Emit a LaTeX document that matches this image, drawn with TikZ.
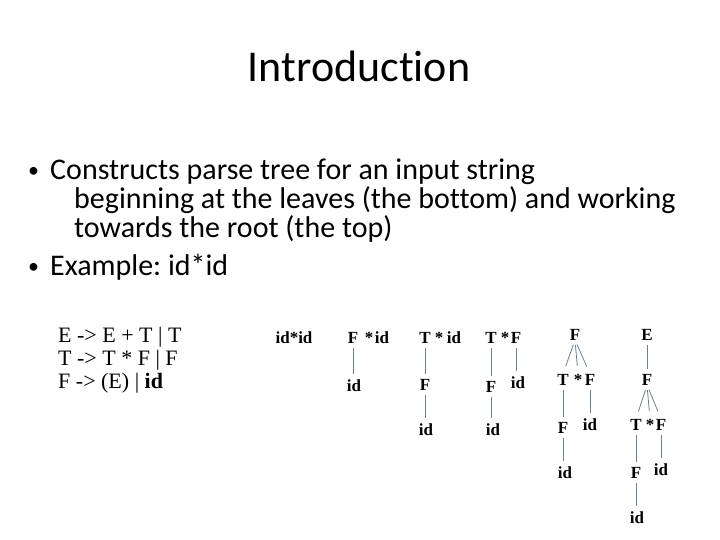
\documentclass[tikz,border=0pt]{standalone}
\usepackage{fontspec}
\setmainfont{Liberation Serif}
\newfontfamily\slidefont[Ligatures=NoCommon]{Carlito}
\usetikzlibrary{positioning}
\definecolor{treeline}{RGB}{110,128,142}
\frenchspacing

\begin{document}
\begin{tikzpicture}[
  x=1pt,y=-1pt,
  sym/.style={anchor=base,inner sep=0pt,outer sep=0pt,font=\bfseries\fontsize{17}{19}\selectfont},
  edge/.style={draw=treeline,line width=0.8pt,shorten <=5pt,shorten >=5pt},
  branch/.style={edge,shorten >=8pt},
  bullet/.style={anchor=base west,inner sep=0pt,font=\slidefont\fontsize{30}{33}\selectfont},
  rule/.style={anchor=base west,inner sep=0pt,font=\fontsize{22}{23}\selectfont}
]
\useasboundingbox (0,0) rectangle (720,540);
% title and bullets
\node[anchor=base,inner sep=0pt,font=\slidefont\fontsize{44}{48}\selectfont] (title) at (359,82) {Introduction};
\node[bullet,font=\slidefont\fontsize{22}{24}\selectfont] (b1) at (28,178) {\textbullet};
\node[bullet] (t1) at (50,180) {Constructs parse tree for an input string};
\node[bullet] (t2) at (74,208) {beginning at the leaves (the bottom) and working};
\node[bullet] (t3) at (74,237) {towards the root (the top)};
\node[bullet,font=\slidefont\fontsize{22}{24}\selectfont] (b2) at (28,273) {\textbullet};
\node[bullet] (t4) at (50,275) {Example: id*id};
% grammar
\node[rule] (g1) at (58,342) {E -\textgreater{} E + T | T};
\node[rule] (g2) at (58,365) {T -\textgreater{} T * F | F};
\node[rule] (g3) at (58,388) {F -\textgreater{} (E) | \textbf{id}};
% step 1
\node[sym] (s1) at (294,343) {id*id};
% step 2
\node[sym] (f2) at (353,343) {F};
\node[sym] (m2) at (369,343) {*};
\node[sym] (i2) at (382,343) {id};
\node[sym] (l2) at (354,391) {id};
\draw[edge] (f2.south) -- (f2.south |- l2.north);
% step 3
\node[sym] (t3a) at (425,343) {T};
\node[sym] (m3) at (439,343) {*};
\node[sym] (i3) at (454,343) {id};
\node[sym] (f3) at (425,390) {F};
\node[sym] (l3) at (426,435) {id};
\draw[edge] (t3a.south) -- (t3a.south |- f3.north);
\draw[edge] (f3.south) -- (f3.south |- l3.north);
% step 4
\node[sym] (t4a) at (491,343) {T};
\node[sym] (m4) at (505,343) {*};
\node[sym] (f4a) at (516,343) {F};
\node[sym] (f4b) at (491,392) {F};
\node[sym] (i4) at (518,388) {id};
\node[sym] (l4) at (493,435) {id};
\draw[edge] (t4a.south) -- (t4a.south |- f4b.north);
\draw[edge] (f4a.south) -- (f4a.south |- i4.north);
\draw[edge] (f4b.south) -- (f4b.south |- l4.north);
% step 5
\node[sym] (r5) at (575,340) {F};
\node[sym] (t5) at (563,385) {T};
\node[sym] (m5) at (578,385) {*};
\node[sym] (f5a) at (590,385) {F};
\node[sym] (f5b) at (563,433) {F};
\node[sym] (i5) at (590,430) {id};
\node[sym] (l5) at (565,478) {id};
\draw[branch] (r5.south) -- (t5.north);
\draw[branch] (r5.south) -- (m5.north);
\draw[branch] (r5.south) -- (f5a.north);
\draw[edge] (t5.south) -- (t5.south |- f5b.north);
\draw[edge] (f5a.south) -- (f5a.south |- i5.north);
\draw[edge] (f5b.south) -- (f5b.south |- l5.north);
% step 6
\node[sym] (e6) at (647,340) {E};
\node[sym] (r6) at (647,385) {F};
\node[sym] (t6) at (636,430) {T};
\node[sym] (m6) at (650,430) {*};
\node[sym] (f6a) at (661,430) {F};
\node[sym] (f6b) at (636,478) {F};
\node[sym] (i6) at (661,475) {id};
\node[sym] (l6) at (637,523) {id};
\draw[edge] (e6.south) -- (e6.south |- r6.north);
\draw[branch] (r6.south) -- (t6.north);
\draw[branch] (r6.south) -- (m6.north);
\draw[branch] (r6.south) -- (f6a.north);
\draw[edge] (t6.south) -- (t6.south |- f6b.north);
\draw[edge] (f6a.south) -- (f6a.south |- i6.north);
\draw[edge] (f6b.south) -- (f6b.south |- l6.north);
\end{tikzpicture}
\end{document}
